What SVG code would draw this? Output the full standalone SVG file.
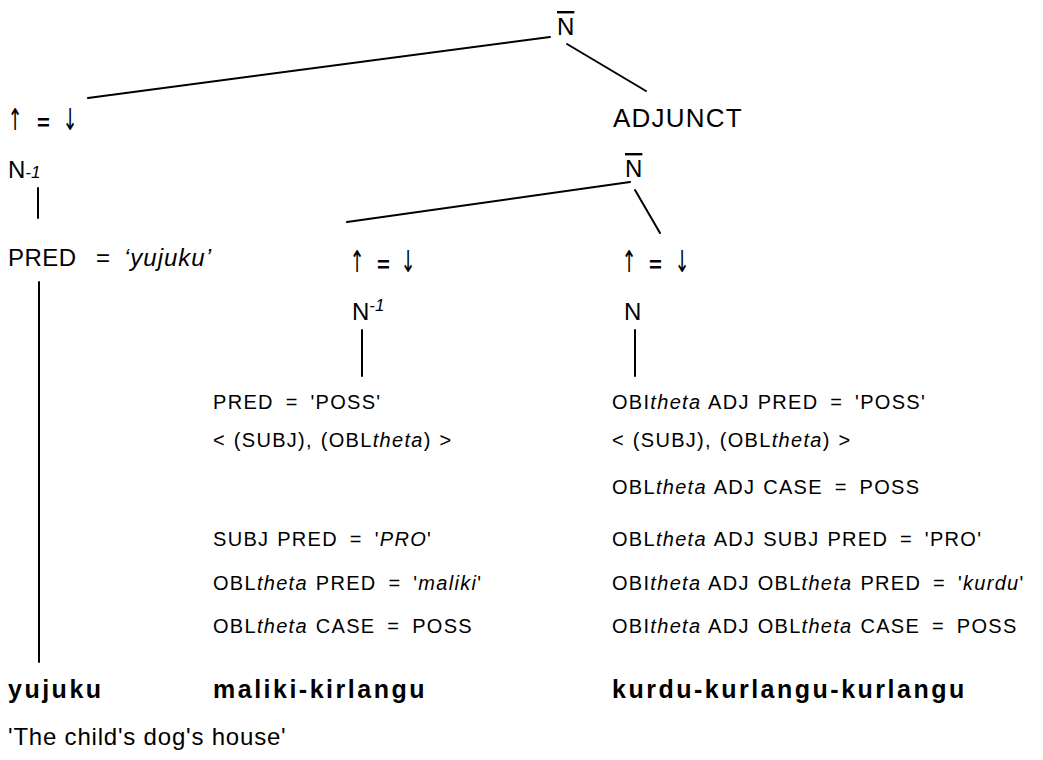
<svg xmlns="http://www.w3.org/2000/svg" width="1043" height="760" viewBox="0 0 1043 760">
<style>
text{font-family:"Liberation Sans","DejaVu Sans",Arial,sans-serif;fill:#000}
.lb{font-size:24px}
.ar{font-family:"DejaVu Sans",sans-serif;font-size:30px;text-anchor:middle}
.eq{font-size:22px;font-weight:bold}
.ft{font-size:20px;letter-spacing:1.3px;word-spacing:1px}
.it{font-style:italic}
.bw{font-size:25px;font-weight:bold;letter-spacing:2.5px}
.tr{font-size:24px;letter-spacing:0.8px}
.ov{text-decoration:overline}
.sm{font-size:17px;font-style:italic}
.cn line{stroke:#000;stroke-width:2;stroke-linecap:round}
</style>
<rect width="1043" height="760" fill="#fff"/>
<g id="connectors" class="cn">
<line x1="88" y1="98" x2="550" y2="37"/>
<line x1="567" y1="44" x2="646" y2="91"/>
<line x1="630" y1="182" x2="347" y2="222"/>
<line x1="635" y1="190" x2="660" y2="233"/>
<line x1="38" y1="188" x2="38" y2="218"/>
<line x1="39" y1="282" x2="39" y2="662"/>
<line x1="362" y1="330" x2="362" y2="376"/>
<line x1="635" y1="330" x2="635" y2="376"/>
</g>
<g id="nbar-top"><text class="lb ov" x="557" y="35">N</text></g>
<g id="adjunct"><text class="lb" x="613" y="127" style="font-size:26px;letter-spacing:1.2px">ADJUNCT</text></g>
<g id="nbar-adj"><text class="lb ov" x="625" y="177">N</text></g>
<g id="left-head">
<text class="ar" transform="translate(15,130) scale(0.6,1)">↑</text>
<text class="eq" x="37" y="130">=</text>
<text class="ar" transform="translate(70,130) scale(0.6,1)">↓</text>
</g>
<g id="left-n"><text class="lb" x="8" y="178">N<tspan class="sm">-1</tspan></text></g>
<g id="left-pred"><text class="lb" y="266"><tspan x="8" letter-spacing="0.5">PRED</tspan><tspan x="96">=</tspan><tspan x="124" class="it" letter-spacing="1">‘yujuku’</tspan></text></g>
<g id="mid-head">
<text class="ar" transform="translate(357,272) scale(0.6,1)">↑</text>
<text class="eq" x="377" y="272">=</text>
<text class="ar" transform="translate(408,272) scale(0.6,1)">↓</text>
</g>
<g id="mid-n"><text class="lb" x="352" y="320">N<tspan class="sm" dy="-9">-1</tspan></text></g>
<g id="right-head">
<text class="ar" transform="translate(629,272) scale(0.6,1)">↑</text>
<text class="eq" x="649" y="272">=</text>
<text class="ar" transform="translate(682,272) scale(0.6,1)">↓</text>
</g>
<g id="right-n"><text class="lb" x="624" y="320">N</text></g>
<g id="mid-features">
<text class="ft" x="213" y="409">PRED <tspan dx="4">=</tspan> <tspan dx="4">'POSS'</tspan></text>
<text class="ft" x="213" y="447">&lt; (SUBJ), (OBL<tspan class="it">theta</tspan>) &gt;</text>
<text class="ft" x="213" y="546">SUBJ PRED <tspan dx="4">=</tspan> <tspan dx="4">'</tspan><tspan class="it">PRO</tspan>'</text>
<text class="ft" x="213" y="590">OBL<tspan class="it">theta</tspan> PRED <tspan dx="4">=</tspan> <tspan dx="4">'</tspan><tspan class="it">maliki</tspan>'</text>
<text class="ft" x="213" y="633">OBL<tspan class="it">theta</tspan> CASE <tspan dx="4">=</tspan> <tspan dx="4">POSS</tspan></text>
</g>
<g id="right-features">
<text class="ft" x="612" y="409">OBI<tspan class="it">theta</tspan> ADJ PRED <tspan dx="4">=</tspan> <tspan dx="4">'POSS'</tspan></text>
<text class="ft" x="612" y="447">&lt; (SUBJ), (OBL<tspan class="it">theta</tspan>) &gt;</text>
<text class="ft" x="612" y="494">OBL<tspan class="it">theta</tspan> ADJ CASE <tspan dx="4">=</tspan> <tspan dx="4">POSS</tspan></text>
<text class="ft" x="612" y="546">OBL<tspan class="it">theta</tspan> ADJ SUBJ PRED <tspan dx="4">=</tspan> <tspan dx="4">'PRO'</tspan></text>
<text class="ft" x="612" y="590">OBI<tspan class="it">theta</tspan> ADJ OBL<tspan class="it">theta</tspan> PRED <tspan dx="4">=</tspan> <tspan dx="4">'</tspan><tspan class="it">kurdu</tspan>'</text>
<text class="ft" x="612" y="633">OBI<tspan class="it">theta</tspan> ADJ OBL<tspan class="it">theta</tspan> CASE <tspan dx="4">=</tspan> <tspan dx="4">POSS</tspan></text>
</g>
<g id="words">
<text class="bw" x="8" y="698">yujuku</text>
<text class="bw" x="213" y="698">maliki-kirlangu</text>
<text class="bw" x="612" y="698">kurdu-kurlangu-kurlangu</text>
</g>
<g id="translation"><text class="tr" x="8" y="745">'The child's dog's house'</text></g>
</svg>
